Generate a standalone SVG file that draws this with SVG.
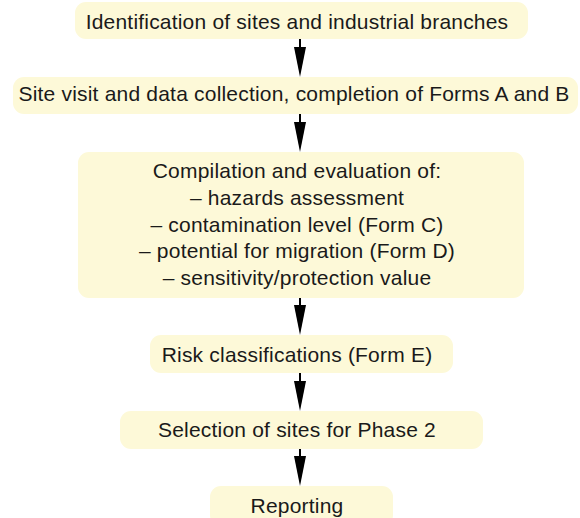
<svg xmlns="http://www.w3.org/2000/svg" width="580" height="518" viewBox="0 0 580 518">
  <style>
    .box { fill: #fdf9d8; }
    .lbl { font-family: "Liberation Sans", Arial, sans-serif; font-size: 21px; fill: #1a1a1a; text-anchor: middle; letter-spacing: 0.2px; }
    .conn { stroke: #000; stroke-width: 2; fill: none; marker-end: url(#head); }
  </style>
  <defs>
    <marker id="head" viewBox="0 0 30 12" refX="20" refY="6" markerWidth="30" markerHeight="12" markerUnits="userSpaceOnUse" orient="auto">
      <path d="M0,0 L30,6 L0,12 Z" fill="#000"/>
    </marker>
  </defs>
  <rect width="580" height="518" fill="#ffffff"/>

  <g id="identification">
    <rect class="box" x="75" y="2" width="453" height="37" rx="11"/>
    <text class="lbl" x="297" y="29">Identification of sites and industrial branches</text>
  </g>

  <g id="site-visit">
    <rect class="box" x="13" y="77" width="565" height="37" rx="11"/>
    <text class="lbl" x="294" y="101">Site visit and data collection, completion of Forms A and B</text>
  </g>

  <g id="compilation">
    <rect class="box" x="78" y="152" width="446" height="146" rx="11"/>
    <text class="lbl" x="297" y="178">Compilation and evaluation of:</text>
    <text class="lbl" x="297" y="205">– hazards assessment</text>
    <text class="lbl" x="297" y="232">– contamination level (Form C)</text>
    <text class="lbl" x="297" y="258">– potential for migration (Form D)</text>
    <text class="lbl" x="297" y="285">– sensitivity/protection value</text>
  </g>

  <g id="risk">
    <rect class="box" x="150" y="335" width="303" height="38" rx="11"/>
    <text class="lbl" x="297" y="362">Risk classifications (Form E)</text>
  </g>

  <g id="selection">
    <rect class="box" x="120" y="411" width="363" height="38" rx="11"/>
    <text class="lbl" x="297" y="437">Selection of sites for Phase 2</text>
  </g>

  <g id="reporting">
    <rect class="box" x="210" y="486" width="183" height="40" rx="11"/>
    <text class="lbl" x="297" y="513">Reporting</text>
  </g>

  <g id="connectors">
    <line class="conn" x1="300" y1="39" x2="300" y2="67"/>
    <line class="conn" x1="300" y1="114" x2="300" y2="142"/>
    <line class="conn" x1="300" y1="298" x2="300" y2="325"/>
    <line class="conn" x1="300" y1="373" x2="300" y2="401"/>
    <line class="conn" x1="300" y1="449" x2="300" y2="476"/>
  </g>
</svg>
